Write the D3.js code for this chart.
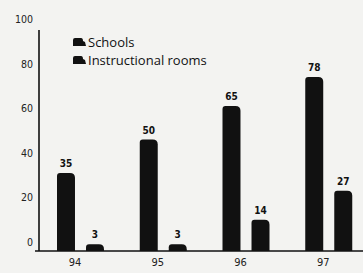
<!DOCTYPE html>
<html>
<head>
<meta charset="utf-8">
<script src="https://cdn.jsdelivr.net/npm/d3@7"></script>
<style>
  body { margin: 0; background: #f3f3f1; }
  svg { display: block; }
</style>
</head>
<body>
<script>
const width = 363;
const height = 273;

const years = ['94', '95', '96', '97'];
const schools = [35, 50, 65, 78];
const rooms = [3, 3, 14, 27];
const yTicks = [0, 20, 40, 60, 80, 100];
const seriesNames = ['Schools', 'Instructional rooms'];

const ink = '#111';

const svg = d3.select('body').append('svg')
  .attr('width', width)
  .attr('height', height);

const y = d3.scaleLinear().domain([0, 100]).range([251, 28]);

// groups start every ~83px, two 18px bars with a ~11px gap inside
const x = d3.scaleBand().domain(years).range([57, 388]).paddingInner(0).paddingOuter(0);
const inner = d3.scaleBand().domain([0, 1]).range([0, 47]).paddingInner(0.38).paddingOuter(0);

// y axis line and baseline
svg.append('line')
  .attr('x1', 39).attr('x2', 39)
  .attr('y1', 30).attr('y2', y(0))
  .attr('stroke', ink).attr('stroke-width', 1.6);

svg.append('line')
  .attr('x1', 35).attr('x2', width)
  .attr('y1', y(0)).attr('y2', y(0))
  .attr('stroke', ink).attr('stroke-width', 1.4);

// tick labels (sit a bit above their value in the original)
svg.append('g')
  .selectAll('text')
  .data(yTicks)
  .join('text')
    .attr('x', 33)
    .attr('y', d => y(d) - 5)
    .attr('text-anchor', 'end')
    .attr('font-family', 'DejaVu Sans Condensed, DejaVu Sans')
    .attr('font-size', 10.5)
    .attr('fill', '#222')
    .text(d => d);

// rounded-top bar path
function barPath(x0, w, top, bottom) {
  const r = Math.min(5, (bottom - top), w / 2);
  return `M${x0},${bottom} L${x0},${top + r * 0.6} Q${x0},${top} ${x0 + r * 0.6},${top}` +
    ` L${x0 + w - r},${top} Q${x0 + w},${top} ${x0 + w},${top + r} L${x0 + w},${bottom} Z`;
}

const groups = svg.append('g')
  .selectAll('g')
  .data(years)
  .join('g')
    .attr('transform', d => `translate(${x(d)},0)`);

[schools, rooms].forEach((series, s) => {
  groups.append('path')
    .attr('d', (d, i) => barPath(inner(s), inner.bandwidth(), y(series[i]), y(0)))
    .attr('fill', ink);

  groups.append('text')
    .attr('x', inner(s) + inner.bandwidth() / 2)
    .attr('y', (d, i) => y(series[i]) - 6)
    .attr('text-anchor', 'middle')
    .attr('font-family', 'DejaVu Sans Condensed, DejaVu Sans')
    .attr('font-weight', 'bold')
    .attr('font-size', 10)
    .attr('fill', ink)
    .text((d, i) => series[i]);
});

// category labels
groups.append('text')
  .attr('x', 18)
  .attr('y', 266)
  .attr('text-anchor', 'middle')
  .attr('font-family', 'DejaVu Sans Condensed, DejaVu Sans')
  .attr('font-size', 11)
  .attr('fill', '#222')
  .text(d => d);

// legend
const legend = svg.append('g')
  .selectAll('g')
  .data(seriesNames)
  .join('g')
    .attr('transform', (d, i) => `translate(73,${42 + i * 18})`);

legend.append('path')
  .attr('d', 'M0,4 L0,-2 Q0,-4 2,-4 L8,-4 Q10,-4 10,-1 L12,0 L13,4 Z')
  .attr('fill', ink);

legend.append('text')
  .attr('x', 15)
  .attr('y', 4.5)
  .attr('font-family', 'Open Sans, DejaVu Sans')
  .attr('font-size', 13)
  .attr('fill', ink)
  .text(d => d);
</script>
</body>
</html>
